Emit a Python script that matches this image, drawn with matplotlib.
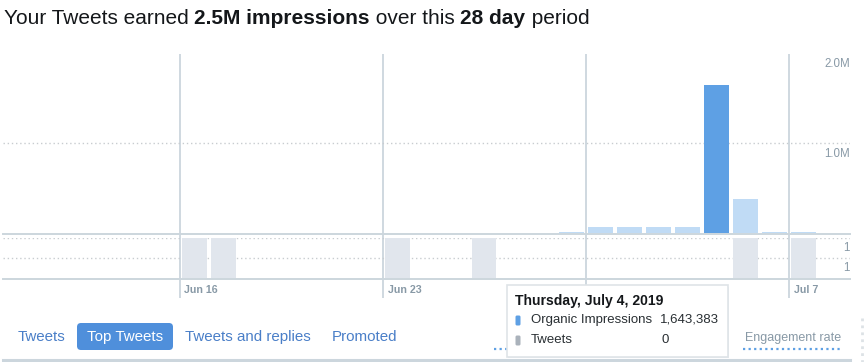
import matplotlib
matplotlib.use("Agg")
import matplotlib.pyplot as plt
from matplotlib.patches import FancyBboxPatch, Rectangle

plt.rcParams['font.family'] = ['Liberation Sans', 'DejaVu Sans']

# ---- data ----
days = ["Jun 10", "Jun 11", "Jun 12", "Jun 13", "Jun 14", "Jun 15", "Jun 16",
        "Jun 17", "Jun 18", "Jun 19", "Jun 20", "Jun 21", "Jun 22", "Jun 23",
        "Jun 24", "Jun 25", "Jun 26", "Jun 27", "Jun 28", "Jun 29", "Jun 30",
        "Jul 1", "Jul 2", "Jul 3", "Jul 4", "Jul 5", "Jul 6", "Jul 7"]
impressions = [3000, 3000, 3000, 3000, 0, 0, 0,
               0, 0, 0, 0, 0, 0, 0,
               0, 0, 0, 0, 0, 15000, 70000,
               70000, 70000, 70000, 1643383, 381000, 15000, 15000]
tweets = [0, 0, 0, 0, 0, 0, 1,
          1, 0, 0, 0, 0, 0, 1,
          0, 0, 1, 0, 0, 0, 0,
          0, 0, 0, 0, 1, 0, 1]
highlight_day = "Jul 4"
week_lines = ["Jun 16", "Jun 23", "Jun 30", "Jul 7"]
tick_labels = ["Jun 16", "Jun 23", "Jul 7"]   # Jun 30 label hidden by the tooltip
top_ticks = [1.0e6, 2.0e6]
top_tick_labels = ["1.0M", "2.0M"]
bottom_ticks = [0.5, 1.0]
bottom_tick_labels = ["1", "1"]
tabs = ["Tweets", "Top Tweets", "Tweets and replies", "Promoted"]

W, H = 868, 362
fig = plt.figure(figsize=(W / 100, H / 100), dpi=100)

def fr(x0, y0, x1, y1):
    """pixel box (top-left origin) -> figure fraction rect"""
    return [x0 / W, 1 - y1 / H, (x1 - x0) / W, (y1 - y0) / H]

# x mapping: day center px = 20 + 29*i ; axes from px 3 to 850
XL = ((3 - 20) / 29, (850 - 20) / 29)
xs = list(range(len(days)))

LINE = "#ccd6dd"
DOT = "#c8ccd0"
LBL = "#8899a6"

# grid axes for vertical lines
axg = fig.add_axes(fr(3, 54, 850, 298))
axg.set_xlim(*XL); axg.set_ylim(0, 1); axg.axis("off")
for d in week_lines:
    axg.axvline(days.index(d) - 0.5, color=LINE, lw=1.3, zorder=0)

# top panel
ax1 = fig.add_axes(fr(3, 53, 850, 233))
ax1.set_xlim(*XL); ax1.set_ylim(0, 2.0e6); ax1.axis("off")
ax1.patch.set_alpha(0)
colors = ["#5ea0e4" if d == highlight_day else "#c0dbf5" for d in days]
ax1.bar(xs, impressions, width=25 / 29, color=colors, zorder=2)
ax1.axhline(1.0e6, color=DOT, lw=1, ls=(0, (1, 2)), zorder=1)
for t, l in zip(top_ticks, top_tick_labels):
    ax1.annotate(l, xy=(1, t), xycoords=("axes fraction", "data"),
                 xytext=(0, -11), textcoords="offset pixels",
                 ha="right", va="center", fontsize=8.3, color=LBL)

# bottom panel
ax2 = fig.add_axes(fr(3, 238, 850, 278))
ax2.set_xlim(*XL); ax2.set_ylim(0, 1); ax2.axis("off")
ax2.patch.set_alpha(0)
ax2.bar(xs, tweets, width=25 / 29, color="#e1e6ed", zorder=2)
for t, l in zip(bottom_ticks, bottom_tick_labels):
    ax2.axhline(t, color=DOT, lw=1, ls=(0, (1, 2)), zorder=1)
    ax2.annotate(l, xy=(1, t), xycoords=("axes fraction", "data"),
                 xytext=(0, -10), textcoords="offset pixels",
                 ha="right", va="center", fontsize=8.3, color=LBL)

# overlay axes in pixel coords
ov = fig.add_axes([0, 0, 1, 1])
ov.set_xlim(0, W); ov.set_ylim(H, 0); ov.axis("off")
ov.patch.set_alpha(0)

# horizontal solid lines
ov.plot([3, 850], [233.5, 233.5], color=LINE, lw=1.4, zorder=3)
ov.plot([3, 850], [278.5, 278.5], color=LINE, lw=1.4, zorder=3)

# date tick labels
for d in tick_labels:
    xpx = 20 + 29 * (days.index(d) - 0.5)
    ov.text(xpx + 5, 290, d, ha="left", va="center", fontsize=7.7,
            color=LBL, fontweight="bold", zorder=3)

# title
parts = [("Your Tweets earned ", "normal"), ("2.5M impressions", "bold"),
         (" over this ", "normal"), ("28 day", "bold"), (" period", "normal")]
fig.canvas.draw()
r = fig.canvas.get_renderer()
xcur = 4
for txt, wgt in parts:
    t = ov.text(xcur, 19, txt, fontsize=15, color="#14171a", va="center",
                ha="left", fontweight=wgt)
    xcur += t.get_window_extent(renderer=r).width

# tabs
tab_x = [18, 77, 185, 332]
for txt, x in zip(tabs, tab_x):
    if txt == "Top Tweets":
        ov.add_patch(FancyBboxPatch((x + 3, 326), 90, 21,
                                    boxstyle="round,pad=3,rounding_size=4",
                                    fc="#4f8fdb", ec="none", zorder=3))
        ov.text(x + 48, 337, txt, ha="center", va="center", fontsize=10.9,
                color="white", zorder=4)
    else:
        ov.text(x, 337, txt, ha="left", va="center", fontsize=10.9,
                color="#4a7fc8", zorder=3)
ov.plot([3, 850], [360, 360], color=LINE, lw=2.2, zorder=2)
ov.text(745, 338, "Engagement rate", ha="left", va="center", fontsize=9.0,
        color=LBL, zorder=3)
ov.plot([743, 843], [349, 349], color="#5ea0e4", lw=1.6, ls=(0, (1, 1.5)), zorder=3)
ov.plot([494, 508], [349, 349], color="#5ea0e4", lw=1.6, ls=(0, (1, 1.5)), zorder=3)
ov.plot([862, 862], [318, 362], color="#dde2e6", lw=2, ls=(0, (1, 1.5)), zorder=3)

# tooltip
ov.add_patch(Rectangle((508, 287), 221, 71, fc="#e8ecef", ec="none", zorder=5))
ov.add_patch(Rectangle((507, 285), 221, 72, fc="white", ec="#dfe4e8", lw=1.2, zorder=6))
ov.text(515, 301, "Thursday, July 4, 2019", fontsize=10.1, fontweight="bold",
        color="#14171a", va="center", ha="left", zorder=7)
ov.add_patch(FancyBboxPatch((516, 316), 4, 9, boxstyle="round,pad=0.5,rounding_size=1.5",
                            fc="#5ea0e4", ec="none", zorder=7))
ov.add_patch(FancyBboxPatch((516, 336), 4, 9, boxstyle="round,pad=0.5,rounding_size=1.5",
                            fc="#aab2bb", ec="none", zorder=7))
ov.text(531, 320, "Organic Impressions", fontsize=9.5, color="#292f33",
        va="center", ha="left", zorder=7)
ov.text(660, 320, f"{impressions[days.index(highlight_day)]:,}", fontsize=9.5,
        color="#292f33", va="center", ha="left", zorder=7)
ov.text(531, 340, "Tweets", fontsize=9.5, color="#292f33",
        va="center", ha="left", zorder=7)
ov.text(662, 340, str(tweets[days.index(highlight_day)]), fontsize=9.5,
        color="#292f33", va="center", ha="left", zorder=7)

fig.savefig("out.png", dpi=100, facecolor="white")
